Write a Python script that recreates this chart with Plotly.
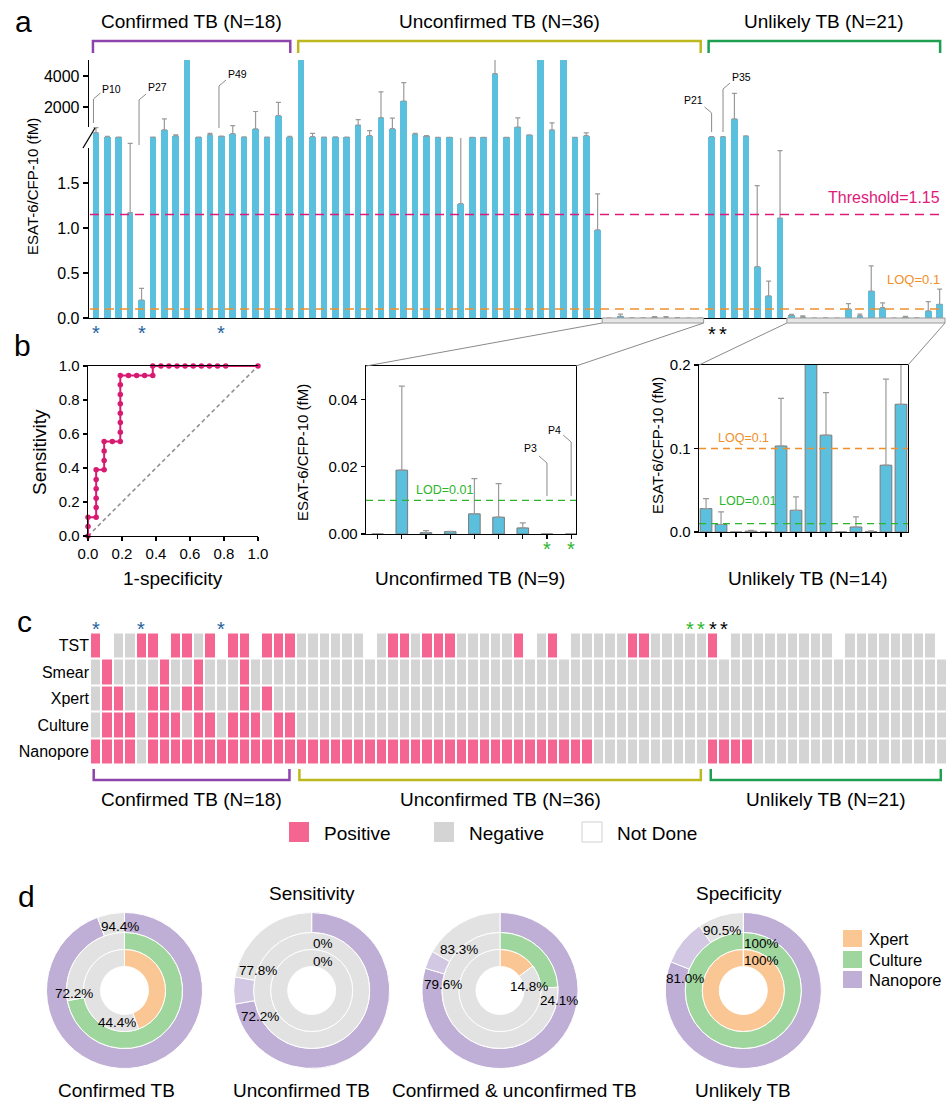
import math
import plotly.graph_objects as go

W, H = 948, 1102
FONT = "Liberation Sans, Arial, Helvetica, sans-serif"


def X(p):
    return p / W


def Y(p):
    return 1 - p / H


# ------------------------------------------------------------------ DATA
group_names = ["Confirmed TB (N=18)", "Unconfirmed TB (N=36)", "Unlikely TB (N=21)"]

confirmed_vals = [345, 85, 50, 1.17, 0.20, 50, 520, 130, 6000, 50, 215, 110, 280, 65, 585, 50, 1450, 85]
confirmed_err = [325, 15, 5, 0.77, 0.13, 5, 715, 70, 0, 5, 85, 10, 520, 5, 1125, 5, 850, 15]

unconfirmed_vals = [6000, 85, 50, 65, 50, 825, 150, 1320, 605, 2385, 260, 110, 40, 40, 1.27, 40, 40, 4150,
                    40, 695, 195, 6000, 520, 6000, 40, 150, 0.98,
                    0, 0.019, 0.0004, 0.0007, 0.006, 0.005, 0.0018, 0, 0]
unconfirmed_err = [0, 215, 5, 10, 5, 365, 325, 1650, 675, 1190, 40, 40, 5, 5, 0.85, 5, 5, 1500,
                   5, 605, 10, 0, 455, 0, 5, 175, 0.40,
                   0, 0.025, 0.0006, 0.0001, 0.0105, 0.010, 0.0015, 0, 0]

unlikely_vals = [85, 85, 1235, 130, 0.57, 0.245, 1.11,
                 0.028, 0.009, 0, 0.001, 0, 0.103, 0.026, 0.30, 0.116, 0, 0.006, 0.0005, 0.08, 0.153]
unlikely_err = [10, 10, 1645, 10, 0.90, 0.165, 0.75,
                0.012, 0.015, 0, 0.001, 0, 0.057, 0.016, 0.28, 0.051, 0, 0.012, 0.001, 0.103, 0.167]

threshold = 1.15
loq = 0.1
lod = 0.01

upper_ticks = [2000, 4000]
lower_ticks = [0, 0.5, 1.0, 1.5]

blue_star_cols = [0, 4, 11]
green_star_cols = [52, 53]
black_star_cols = [54, 55]

main_callouts = ["P10", "P27", "P49", "P21", "P35"]
main_callout_cols = [0, 4, 11, 54, 55]
inset_callouts = ["P3", "P4"]
inset_callout_cols = [7, 8]

# ROC curve
roc_fpr = [0, 0, 0, 0.048, 0.048, 0.048, 0.048, 0.048, 0.048, 0.095, 0.095, 0.095, 0.095, 0.143,
           0.190, 0.190, 0.190, 0.190, 0.190, 0.190, 0.190, 0.190, 0.238, 0.286, 0.333, 0.381,
           0.381, 0.429, 0.476, 0.524, 0.571, 0.619, 0.667, 0.714, 0.762, 0.810, 1.0]
roc_tpr = [0, 0.056, 0.111, 0.111, 0.167, 0.222, 0.278, 0.333, 0.389, 0.389, 0.444, 0.500, 0.556, 0.556,
           0.556, 0.611, 0.667, 0.722, 0.778, 0.833, 0.889, 0.944, 0.944, 0.944, 0.944, 0.944,
           1.0, 1.0, 1.0, 1.0, 1.0, 1.0, 1.0, 1.0, 1.0, 1.0, 1.0]
roc_ticks = [0, 0.2, 0.4, 0.6, 0.8, 1.0]

# Heat map: P = positive, N = negative, O = not done
heat_rows = ["TST", "Smear", "Xpert", "Culture", "Nanopore"]
heat_tst = ("PONNPPOPPNPOPPOPPP"
            "NNNNNNONPPNPPPNNNNNPONPONNNNNPPNNNNN"
            "PONNNNNNNNNONNNNNNNNO")
heat_smear = ("NPNNNNPNNPNNNPNNNN"
              "NNNNNNNNNNNN" "NNNNNNNNNNNN" "NNNNNNNNNNNN"
              "NNNNNNNNNNNN" "NNNNNNNNN")
heat_xpert = ("NPPNNPPNPPNNNPNPNN"
              "NNNNNNNNNNNN" "NNNNNNNNNNNN" "NNNNNNNNNNNN"
              "NNNNNNNNNNNN" "NNNNNNNNN")
heat_culture = ("NPPPNPPPNPPNPPPNPP"
                "NNNNNNNNNNNN" "NNNNNNNNNNNN" "NNNNNNNNNNNN"
                "NNNNNNNNNNNN" "NNNNNNNNN")
heat_nanopore = ("PPPPNPPPPPPPPPPPPP"
                 "PPPPPPPPPPPPP" "PPPPPPPPPPPPP" "NNNNNNNNNN"
                 "PPPP" "NNNNNNNNNNNN" "NNNNN")
heat_legend = ["Positive", "Negative", "Not Done"]

# Donuts (percent)
donut_names = ["Confirmed TB", "Unconfirmed TB", "Confirmed & unconfirmed TB", "Unlikely TB"]
xpert_pct = [44.4, 0, 14.8, 100]
culture_pct = [72.2, 0, 24.1, 100]
nanopore_pct = [94.4, 72.2, 79.6, 81.0]
nanopore_lod_pct = [94.4, 77.8, 83.3, 90.5]
xpert_lbl = ["44.4%", "0%", "14.8%", "100%"]
culture_lbl = ["72.2%", "0%", "24.1%", "100%"]
nanopore_lbl = ["94.4%", "72.2%", "79.6%", "81.0%"]
nanopore_lod_lbl = ["", "77.8%", "83.3%", "90.5%"]
donut_legend = ["Xpert", "Culture", "Nanopore"]

for s in (heat_tst, heat_smear, heat_xpert, heat_culture, heat_nanopore):
    assert len(s) == 75, len(s)

# ------------------------------------------------------------------ STYLE
BAR = "#5bc0de"
ERR = "#9a9a9a"
PINK_HEAT = "#f46691"
GRAY_HEAT = "#d4d4d4"
ROC = "#d81b72"
MAG = "#e0197a"
ORANGE = "#f0902c"
GREEN_LINE = "#2bb52b"
BLUE_STAR = "#1f5f9e"
GROUP_COL = ["#8e44ad", "#bdb81e", "#1ea050"]
PURPLE = "#bfaed5"
LPURPLE = "#d3c8e3"
GREEN_D = "#9fd69d"
ORANGE_D = "#fac694"
GRAY_D = "#e2e2e2"

# main panel a geometry (pixels)
XR = [-0.61, 74.47]
XD = [89, 945]


def bar_px(i):
    return XD[0] + (i - XR[0]) * (XD[1] - XD[0]) / (XR[1] - XR[0])


I1_XR = [-0.48, 8.2]
I1_XD = [366, 576]
I1_YD = [534, 366]
I2_XR = [-0.47, 13.47]
I2_XD = [699, 908]
I2_YD = [532, 365]


def i1_px(i):
    return I1_XD[0] + (i - I1_XR[0]) * (I1_XD[1] - I1_XD[0]) / (I1_XR[1] - I1_XR[0])


HM_XD = [90, 947]
HM_XR = [-0.5, 74.5]


def hm_px(i):
    return HM_XD[0] + (i - HM_XR[0]) * (HM_XD[1] - HM_XD[0]) / (HM_XR[1] - HM_XR[0])


fig = go.Figure()
ann = []
shapes = []


def text(x, y, s, size=16, color="black", xanchor="center", angle=0, xref="paper", yref="paper"):
    ann.append(dict(x=x, y=y, text=s, showarrow=False, xref=xref, yref=yref,
                    xanchor=xanchor, yanchor="middle", textangle=angle,
                    font=dict(size=size, color=color, family=FONT)))


def tpx(xp, yp, s, **kw):
    text(X(xp), Y(yp), s, **kw)


def line(x0, y0, x1, y1, color, width=1.0, dash=None):
    shapes.append(dict(type="line", xref="paper", yref="paper", x0=X(x0), y0=Y(y0), x1=X(x1), y1=Y(y1),
                       line=dict(color=color, width=width, dash=dash), layer="above"))


def path(points, color, width=1.0):
    d = "M " + " L ".join(f"{X(a):.5f},{Y(b):.5f}" for a, b in points)
    shapes.append(dict(type="path", xref="paper", yref="paper", path=d,
                       line=dict(color=color, width=width), layer="above"))


def rect(x0, y0, x1, y1, fill, lc=None, lw=0):
    shapes.append(dict(type="rect", xref="paper", yref="paper", x0=X(x0), y0=Y(y0), x1=X(x1), y1=Y(y1),
                       fillcolor=fill, line=dict(color=lc or fill, width=lw), layer="above"))


def add_err(xs, ys, es, xa, ya, cap=2.5):
    fig.add_trace(go.Scatter(
        x=xs, y=ys, mode="markers", marker=dict(size=2, color="rgba(0,0,0,0)"),
        error_y=dict(type="data", symmetric=False, array=es, arrayminus=[0] * len(es),
                     color=ERR, thickness=1.2, width=cap),
        xaxis=xa, yaxis=ya, hoverinfo="skip"))


# ------------------------------------------------------------------ PANEL a
all_vals = confirmed_vals + unconfirmed_vals + unlikely_vals
all_err = confirmed_err + unconfirmed_err + unlikely_err
idx = list(range(len(all_vals)))

for xa, ya in (("x", "y"), ("x2", "y2")):
    fig.add_trace(go.Bar(x=idx, y=all_vals, width=0.58, marker=dict(color=BAR, line=dict(width=0)),
                         xaxis=xa, yaxis=ya, hoverinfo="skip"))

hi = [i for i in idx if all_vals[i] >= 2]
lo = [i for i in idx if all_vals[i] < 2]
add_err(hi, [all_vals[i] for i in hi], [all_err[i] for i in hi], "x", "y")
add_err(lo, [all_vals[i] for i in lo], [all_err[i] for i in lo], "x2", "y2")

# threshold / LOQ
shapes.append(dict(type="line", xref="paper", yref="y2", x0=X(90), x1=X(942), y0=threshold, y1=threshold,
                   line=dict(color=MAG, width=1.6, dash="9px,6px"), layer="above"))
shapes.append(dict(type="line", xref="paper", yref="y2", x0=X(90), x1=X(942), y0=loq, y1=loq,
                   line=dict(color=ORANGE, width=1.6, dash="9px,6px"), layer="above"))
tpx(942, 197, "Threshold=1.15", size=16, color=MAG, xanchor="right")
tpx(942, 279, "LOQ=0.1", size=13, color=ORANGE, xanchor="right")

# group brackets (top) and labels
sizes = [len(confirmed_vals), len(unconfirmed_vals), len(unlikely_vals)]
starts = [0, sizes[0], sizes[0] + sizes[1]]
for g in range(3):
    l = bar_px(starts[g]) - 3
    r = bar_px(starts[g] + sizes[g] - 1) + 0.5
    path([(l, 53), (l, 41), (r, 41), (r, 53)], GROUP_COL[g], 2.5)
    tpx((l + r) / 2, 21, group_names[g], size=19)

# axis break
rect(84, 127, 92, 148, "white")
line(83, 148, 95, 128, "black", 1.3)

# zoom boxes under axis and connector lines
zb1 = (bar_px(44.4), bar_px(53.3))
zb2 = (bar_px(60.6), XD[1])
rect(zb1[0], 318, zb1[1], 323, "#e6e6e6", "#9a9a9a", 1)
rect(zb2[0], 318, zb2[1], 323, "#e6e6e6", "#9a9a9a", 1)
line(zb1[0], 323, I1_XD[0], I1_YD[1], "#8a8a8a", 1)
line(zb1[1], 323, I1_XD[1], I1_YD[1], "#8a8a8a", 1)
line(zb2[0], 323, I2_XD[0], I2_YD[1], "#8a8a8a", 1)
line(zb2[1], 323, I2_XD[1], I2_YD[1], "#8a8a8a", 1)

# stars under panel a
for c in blue_star_cols:
    tpx(bar_px(c), 333, "*", size=20, color=BLUE_STAR)
for c in black_star_cols:
    tpx(bar_px(c), 334, "*", size=20, color="black")

# callouts
callout_geom = [(-2.5, 123, 99, 1, 89), (-2.5, 145, 100, 1, 87), (-2.4, 128, 86, 1, 74),
                (0, 132, 113, -1, 100), (0, 132, 89, 1, 77)]
for lab, c, (dx, yb, ye, d, ty) in zip(main_callouts, main_callout_cols, callout_geom):
    xb = bar_px(c) + dx
    path([(xb, yb), (xb, ye), (xb + 7 * d, ye - 6)], "#8a8a8a", 1)
    tpx(xb + 7 * d, ty, lab, size=10.5, xanchor="left" if d > 0 else "right")

tpx(32, 187, "ESAT-6/CFP-10 (fM)", size=15, angle=-90)
tpx(13, 22, "a", size=30, xanchor="left")

# ------------------------------------------------------------------ PANEL b
fig.add_trace(go.Scatter(x=[0, 1], y=[0, 1], mode="lines", line=dict(color="#8c8c8c", width=1.5, dash="4px,3px"),
                         xaxis="x3", yaxis="y3", hoverinfo="skip"))
fig.add_trace(go.Scatter(x=roc_fpr, y=roc_tpr, mode="lines+markers", line=dict(color=ROC, width=2),
                         marker=dict(size=5.5, color=ROC), cliponaxis=False,
                         xaxis="x3", yaxis="y3", hoverinfo="skip"))
tpx(40, 452, "Sensitivity", size=19, angle=-90)
tpx(173, 578, "1-specificity", size=19)
tpx(12, 346, "b", size=30, xanchor="left")

# inset 1 (unconfirmed)
iu_vals = unconfirmed_vals[27:]
iu_err = unconfirmed_err[27:]
iu_idx = list(range(len(iu_vals)))
fig.add_trace(go.Bar(x=iu_idx, y=iu_vals, width=0.48, marker=dict(color=BAR, line=dict(color="#7a7a7a", width=1)),
                     xaxis="x4", yaxis="y4", hoverinfo="skip"))
add_err(iu_idx, iu_vals, iu_err, "x4", "y4", cap=3)
shapes.append(dict(type="line", xref="paper", yref="y4", x0=X(I1_XD[0]), x1=X(I1_XD[1]), y0=lod, y1=lod,
                   line=dict(color=GREEN_LINE, width=1.4, dash="7px,5px"), layer="above"))
tpx(414, 490, "LOD=0.01", size=12.5, color=GREEN_LINE, xanchor="left")
tpx(302, 453, "ESAT-6/CFP-10 (fM)", size=15, angle=-90)
tpx(470, 578, "Unconfirmed TB (N=9)", size=19)
for c in inset_callout_cols:
    tpx(i1_px(c), 549, "*", size=20, color=GREEN_LINE)
inset_geom = [(496, 463, 448), (496, 442, 430)]
for lab, c, (yb, ye, ty) in zip(inset_callouts, inset_callout_cols, inset_geom):
    xb = i1_px(c)
    path([(xb, yb), (xb, ye), (xb - 8, ye - 7)], "#8a8a8a", 1)
    tpx(xb - 8, ty, lab, size=10.5, xanchor="right")

# inset 2 (unlikely)
il_vals = unlikely_vals[7:]
il_err = unlikely_err[7:]
il_idx = list(range(len(il_vals)))
fig.add_trace(go.Bar(x=il_idx, y=il_vals, width=0.78, marker=dict(color=BAR, line=dict(color="#7a7a7a", width=1)),
                     xaxis="x5", yaxis="y5", hoverinfo="skip"))
add_err(il_idx, il_vals, il_err, "x5", "y5", cap=3)
shapes.append(dict(type="line", xref="paper", yref="y5", x0=X(I2_XD[0]), x1=X(I2_XD[1]), y0=loq, y1=loq,
                   line=dict(color=ORANGE, width=1.4, dash="7px,5px"), layer="above"))
shapes.append(dict(type="line", xref="paper", yref="y5", x0=X(I2_XD[0]), x1=X(I2_XD[1]), y0=lod, y1=lod,
                   line=dict(color=GREEN_LINE, width=1.4, dash="7px,5px"), layer="above"))
tpx(716, 438, "LOQ=0.1", size=12.5, color=ORANGE, xanchor="left")
tpx(717, 501, "LOD=0.01", size=12.5, color=GREEN_LINE, xanchor="left")
tpx(657, 446, "ESAT-6/CFP-10 (fM)", size=15, angle=-90)
tpx(808, 578, "Unlikely TB (N=14)", size=19)

# ------------------------------------------------------------------ PANEL c
code = {"O": 0, "N": 1, "P": 2}
z = [[code[ch] for ch in row] for row in (heat_tst, heat_smear, heat_xpert, heat_culture, heat_nanopore)]
fig.add_trace(go.Heatmap(
    z=z, x=list(range(75)), y=list(range(5)), zmin=0, zmax=2, showscale=False, xgap=2, ygap=2,
    colorscale=[[0, "white"], [0.33, "white"], [0.34, GRAY_HEAT], [0.66, GRAY_HEAT], [0.67, PINK_HEAT], [1, PINK_HEAT]],
    xaxis="x6", yaxis="y6", hoverinfo="skip"))

for c in blue_star_cols:
    tpx(hm_px(c), 629, "*", size=20, color=BLUE_STAR)
for c in green_star_cols:
    tpx(hm_px(c), 629, "*", size=20, color=GREEN_LINE)
for c in black_star_cols:
    tpx(hm_px(c), 629, "*", size=20, color="black")

for g in range(3):
    l = hm_px(starts[g]) - 2
    r = hm_px(starts[g] + sizes[g] - 1) - 0.5
    path([(l, 769), (l, 780), (r, 780), (r, 769)], GROUP_COL[g], 2.5)
    tpx((l + r) / 2, 799, group_names[g], size=19)

leg_sw = [(289, PINK_HEAT, None), (434, GRAY_HEAT, None), (582, "white", "#d0d0d0")]
for (sx, fc, lc), lab in zip(leg_sw, heat_legend):
    rect(sx, 822, sx + 20, 842, fc, lc, 1 if lc else 0)
    tpx(sx + 33, 833, lab, size=19, xanchor="left")
tpx(15, 622, "c", size=30, xanchor="left")

# ------------------------------------------------------------------ PANEL d
centers = [124.5, 311.7, 500.0, 743.3]
CY = 990.5
R_OUT, R_MID, R_IN, R_HOLE = 78, 58, 41, 24


def pie(cx, r, hole, values, colors):
    fig.add_trace(go.Pie(values=values, marker=dict(colors=colors, line=dict(color="white", width=1)),
                         domain=dict(x=[X(cx - r), X(cx + r)], y=[Y(CY + r), Y(CY - r)]),
                         hole=hole, sort=False, direction="clockwise", rotation=0,
                         textinfo="none", hoverinfo="skip", showlegend=False))


label_nudge = {
    0: dict(n=(18.5, 0), l=None, c=(-1.3, -6), x=(-18.6, 1)),
    1: dict(n=(14.8, 14), l=(12.8, -7.7), c=(10.8, 2), x=(10.8, 3)),
    2: dict(n=(7.7, 13), l=(18, -7.5), c=(9.1, 12.3), x=(2.5, 15)),
    3: dict(n=(5, 13.5), l=(17, -4), c=(17.7, 2), x=(17.7, 2)),
}


def arc_pt(cx, pct, r):
    th = math.radians(360 * pct / 100)
    return cx + r * math.sin(th), CY - r * math.cos(th)


name_shift = [-8, -10, 14, 0]
for k, cx in enumerate(centers):
    n, nl = nanopore_pct[k], nanopore_lod_pct[k]
    pie(cx, R_OUT, R_MID / R_OUT, [n, nl - n, 100 - nl], [PURPLE, LPURPLE, GRAY_D])
    pie(cx, R_MID, R_IN / R_MID, [culture_pct[k], 100 - culture_pct[k]], [GREEN_D, GRAY_D])
    pie(cx, R_IN, R_HOLE / R_IN, [xpert_pct[k], 100 - xpert_pct[k]], [ORANGE_D, GRAY_D])
    nd = label_nudge[k]
    items = [("n", n, (R_OUT + R_MID) / 2, nanopore_lbl[k]),
             ("l", nl, (R_OUT + R_MID) / 2, nanopore_lod_lbl[k]),
             ("c", culture_pct[k], (R_MID + R_IN) / 2, culture_lbl[k]),
             ("x", xpert_pct[k], (R_IN + R_HOLE) / 2, xpert_lbl[k])]
    for key, pct, rr, lab in items:
        if not lab or nd[key] is None:
            continue
        px_, py_ = arc_pt(cx, pct, rr)
        tpx(px_ + nd[key][0], py_ + nd[key][1], lab, size=13.5)
    tpx(cx + name_shift[k], 1090, donut_names[k], size=19)

tpx(312, 893, "Sensitivity", size=19)
tpx(739, 893, "Specificity", size=19)
for (yy, col), lab in zip([(938.5, ORANGE_D), (959.5, GREEN_D), (979.5, PURPLE)], donut_legend):
    rect(843, yy - 8.5, 862, yy + 8.5, col)
    tpx(867, yy, lab, size=16.5, xanchor="left")
tpx(16, 896, "d", size=30, xanchor="left")

# ------------------------------------------------------------------ LAYOUT
ax_common = dict(showgrid=False, zeroline=False, linecolor="black", linewidth=1.3, tickcolor="black",
                 tickwidth=1.2)
tickf16 = dict(size=16, family=FONT, color="black")
tickf15 = dict(size=15, family=FONT, color="black")

# width/height are left to autosize: the page div itself is pinned to the
# window's top-left corner at 948x1102 (see write_html below).
fig.update_layout(
    margin=dict(l=0, r=0, t=0, b=0, autoexpand=False),
    paper_bgcolor="white", plot_bgcolor="rgba(0,0,0,0)", showlegend=False,
    font=dict(family=FONT, color="black"), bargap=0,
    xaxis=dict(domain=[X(XD[0]), X(XD[1])], range=XR, visible=False, anchor="y", showgrid=False, zeroline=False),
    yaxis=dict(domain=[Y(138), Y(60)], range=[0, 5030], tickvals=upper_ticks, ticktext=[str(t) for t in upper_ticks],
               ticks="outside", ticklen=5, showline=True, tickfont=tickf16, anchor="x", **ax_common),
    xaxis2=dict(domain=[X(XD[0]), X(XD[1])], range=XR, showline=True, ticks="", showticklabels=False,
                anchor="y2", **ax_common),
    yaxis2=dict(domain=[Y(318), Y(138)], range=[0, 2.0], tickvals=lower_ticks,
                ticktext=[f"{t:.1f}" for t in lower_ticks], ticks="outside", ticklen=5, showline=True,
                tickfont=tickf16, anchor="x2", **ax_common),
    xaxis3=dict(domain=[X(88), X(258)], range=[0, 1], tickvals=roc_ticks, ticktext=[f"{t:.1f}" for t in roc_ticks],
                ticks="outside", ticklen=4, showline=True, mirror=True, tickfont=tickf15, anchor="y3", **ax_common),
    yaxis3=dict(domain=[Y(536), Y(366)], range=[0, 1], tickvals=roc_ticks, ticktext=[f"{t:.1f}" for t in roc_ticks],
                ticks="outside", ticklen=4, showline=True, tickfont=tickf15, anchor="x3", **ax_common),
    xaxis4=dict(domain=[X(I1_XD[0]), X(I1_XD[1])], range=I1_XR, tickvals=list(range(9)), showticklabels=False,
                ticks="outside", ticklen=4, showline=True, mirror=True, anchor="y4", **ax_common),
    yaxis4=dict(domain=[Y(I1_YD[0]), Y(I1_YD[1])], range=[0, 0.05], tickvals=[0, 0.02, 0.04],
                ticktext=["0.00", "0.02", "0.04"], ticks="outside", ticklen=4, showline=True, mirror=True,
                tickfont=tickf15, anchor="x4", **ax_common),
    xaxis5=dict(domain=[X(I2_XD[0]), X(I2_XD[1])], range=I2_XR, tickvals=list(range(14)), showticklabels=False,
                ticks="outside", ticklen=4, showline=True, mirror=True, anchor="y5", **ax_common),
    yaxis5=dict(domain=[Y(I2_YD[0]), Y(I2_YD[1])], range=[0, 0.2], tickvals=[0, 0.1, 0.2],
                ticktext=["0.0", "0.1", "0.2"], ticks="outside", ticklen=4, showline=True, mirror=True,
                tickfont=tickf15, anchor="x5", **ax_common),
    xaxis6=dict(domain=[X(HM_XD[0]), X(HM_XD[1])], range=HM_XR, visible=False, anchor="y6"),
    yaxis6=dict(domain=[Y(764.5), Y(632.5)], range=[4.5, -0.5], tickvals=list(range(5)), ticktext=heat_rows,
                showline=False, ticks="", showgrid=False, zeroline=False, tickfont=tickf16, anchor="x6"),
    annotations=ann, shapes=shapes,
)

fig.write_html("out.html", include_plotlyjs=True, full_html=True,
               config={"displayModeBar": False, "staticPlot": True},
               default_width=f"{W}px; position:absolute; left:0px; top:0px",
               default_height=f"{H}px",
               post_script="document.body.style.margin='0px';")
